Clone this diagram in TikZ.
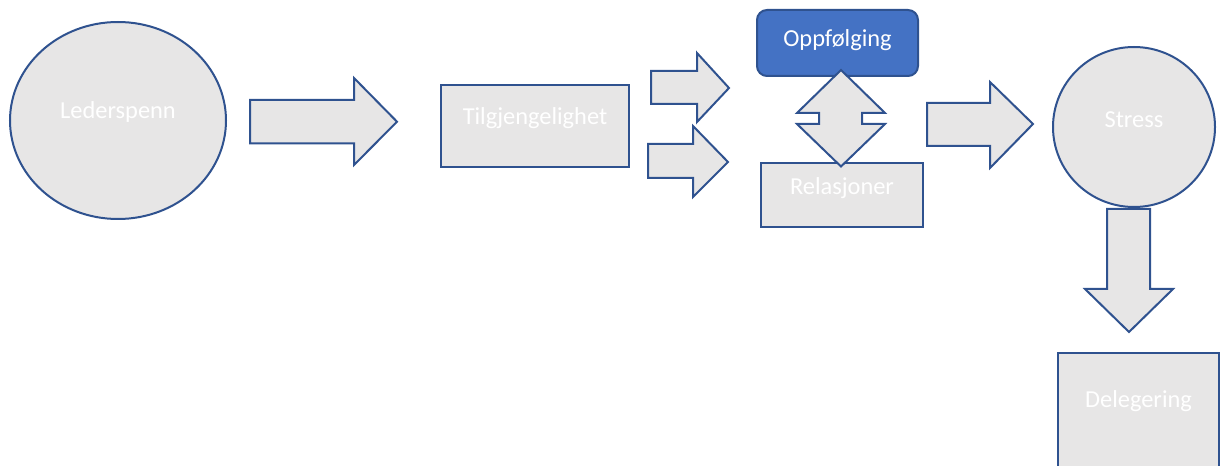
\documentclass[tikz,border=0pt]{standalone}
\usepackage{fontspec}
\setmainfont{Carlito}
\usetikzlibrary{shapes.geometric}
\definecolor{boxfill}{HTML}{E7E6E6}
\definecolor{boxline}{HTML}{2F528F}
\definecolor{accent}{HTML}{4472C4}
\tikzset{
  shapebox/.style={draw=boxline, fill=boxfill, line width=1.5pt, inner sep=0pt},
  blockarrow/.style={draw=boxline, fill=boxfill, line width=1.5pt, line join=miter},
  lbl/.style={text=white, font=\fontsize{18.3}{22}\selectfont, inner sep=0pt},
}
\begin{document}
\begin{tikzpicture}[x=0.75pt, y=-0.75pt]
\useasboundingbox (0,0) rectangle (1220,466);
\clip (0,0) rectangle (1220,466);
% Lederspenn
\node[shapebox, ellipse, minimum width=216*0.75pt, minimum height=197*0.75pt] (leder) at (118,120.5) {};
\node[lbl] (lederT) at (118,112) {Lederspenn};
% arrow 1
\draw[blockarrow] (250,100) -- (354,100) -- (354,78) -- (397,121.7) -- (354,165) -- (354,143.3) -- (250,143.3) -- cycle;
% Tilgjengelighet
\node[shapebox, rectangle, minimum width=188*0.75pt, minimum height=82*0.75pt] (tilg) at (535,126) {};
\node[lbl] (tilgT) at (535,118) {Tilgjengelighet};
% arrows 2 and 3
\draw[blockarrow] (651,71) -- (697,71) -- (697,53) -- (729,88) -- (697,122) -- (697,104) -- (651,104) -- cycle;
\draw[blockarrow] (648,144) -- (693,144) -- (693,126) -- (728,162) -- (693,197) -- (693,178) -- (648,178) -- cycle;
% Oppfolging
\node[draw=boxline, fill=accent, line width=1.5pt, rounded corners=7.5pt, rectangle, minimum width=161*0.75pt, minimum height=66*0.75pt] (oppf) at (837.5,43) {};
\node[lbl] (oppfT) at (837.5,40) {Oppfølging};
% Relasjoner
\node[shapebox, rectangle, minimum width=162*0.75pt, minimum height=64*0.75pt] (rel) at (842,195) {};
\node[lbl] (relT) at (842,188) {Relasjoner};
% up-down arrow
\draw[blockarrow] (841,70) -- (885,113) -- (862,113) -- (862,124) -- (885,124) -- (841,166.5) -- (797,124) -- (819,124) -- (819,113) -- (797,113) -- cycle;
% arrow 4
\draw[blockarrow] (927,103) -- (990,103) -- (990,82) -- (1033,124) -- (990,168) -- (990,146) -- (927,146) -- cycle;
% Stress
\node[shapebox, ellipse, minimum width=162*0.75pt, minimum height=160*0.75pt] (stress) at (1134,127) {};
\node[lbl] (stressT) at (1134,120) {Stress};
% down arrow
\draw[blockarrow] (1107,209) -- (1150,209) -- (1150,289) -- (1173,289) -- (1129,332) -- (1085,289) -- (1107,289) -- cycle;
% Delegering
\node[shapebox, rectangle, minimum width=161*0.75pt, minimum height=140*0.75pt] (deleg) at (1138.5,423) {};
\node[lbl] (delegT) at (1138.5,401) {Delegering};
\end{tikzpicture}
\end{document}
